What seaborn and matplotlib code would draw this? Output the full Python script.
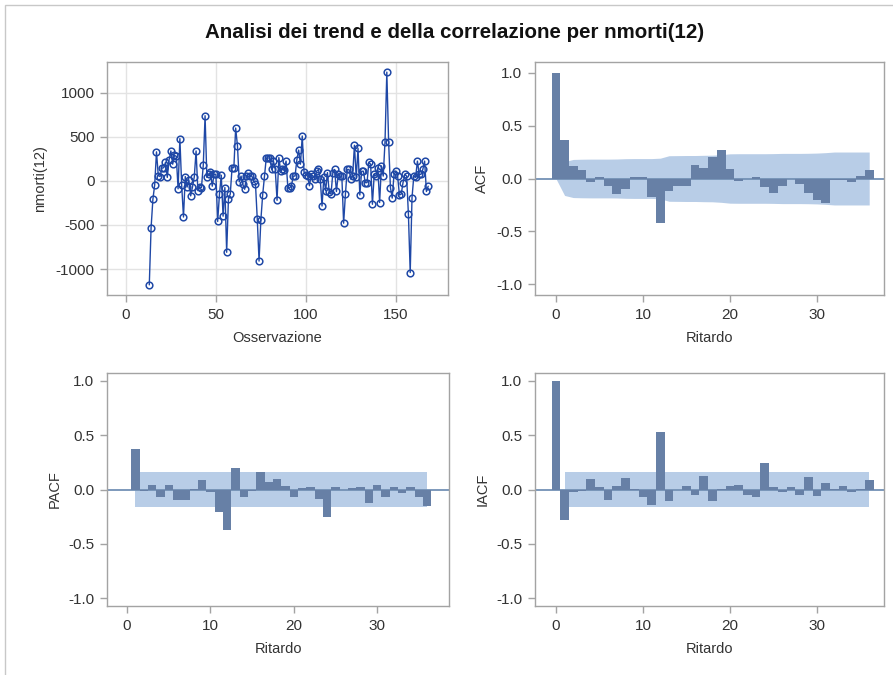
import numpy as np
import pandas as pd
import matplotlib
matplotlib.use("Agg")
import matplotlib.pyplot as plt
from matplotlib.patches import Rectangle
import seaborn as sns

# ---------------- data ----------------
title = "Analisi dei trend e della correlazione per nmorti(12)"

obs = list(range(13, 169))
nmorti12 = [
    -1180, -530, -210, -45, 330, 60, 50, 145, 150, 210,     # 13-22
    40, 240, 340, 190, 290, 280, -90, 480, -50, -410,       # 23-32
    50, -70, 10, -170, -70, 45, 340, -110, -70, -75,        # 33-42
    180, 740, 40, 75, 100, -60, 75, 75, -460, -150,         # 43-52
    65, -400, -75, -810, -200, -150, 150, 150, 600, 400,    # 53-62
    -10, 55, -40, -95, 55, 85, 55, 55, 0, -30,              # 63-72
    -430, -910, -445, -160, 55, 260, 260, 260, 130, 225,    # 73-82
    130, -220, 265, 115, 130, 120, 225, -75, -80, -55,      # 83-92
    55, 55, 240, 350, 190, 510, 100, 70, 55, -55,           # 93-102
    75, 55, 20, 110, 130, 20, -285, 40, -110, 95,           # 103-112
    -130, -150, 95, 130, -120, 75, 55, 55, -480, -150,      # 113-122
    130, 130, 20, 55, 405, 40, 370, -160, 110, 110,         # 123-132
    -20, -20, 210, 190, -265, 75, 55, 150, -245, 170,       # 133-142
    55, 445, 1235, 445, -75, -195, 75, 110, 55, -160,       # 143-152
    -150, -20, 75, 55, -380, -1040, -190, 55, 40, 225,      # 153-162
    75, 75, 130, 225, -120, -60,                            # 163-168
]

lags = list(range(0, 37))
acf = [1.0, 0.366, 0.115, 0.078, -0.03, 0.01, -0.07, -0.15, -0.10, 0.01,
       0.01, -0.17, -0.42, -0.12, -0.07, -0.07, 0.125, 0.095, 0.20, 0.27,
       0.085, -0.02, -0.005, 0.01, -0.08, -0.135, -0.07, 0.0, -0.05, -0.135,
       -0.20, -0.23, -0.01, -0.01, -0.03, 0.02, 0.08]
acf_band = [0.0, 0.160, 0.180, 0.182, 0.183, 0.183, 0.183, 0.184, 0.187, 0.188,
            0.188, 0.188, 0.192, 0.215, 0.216, 0.217, 0.217, 0.219, 0.220, 0.225,
            0.233, 0.234, 0.234, 0.234, 0.234, 0.235, 0.237, 0.237, 0.237, 0.238,
            0.240, 0.244, 0.250, 0.250, 0.250, 0.250, 0.250]

pacf_lags = list(range(1, 37))
pacf = [0.37, -0.015, 0.045, -0.07, 0.045, -0.10, -0.10, 0.005, 0.085, -0.02,
        -0.21, -0.37, 0.20, -0.07, -0.015, 0.16, 0.07, 0.10, 0.03, -0.07,
        0.01, 0.02, -0.085, -0.25, 0.02, -0.005, 0.01, 0.02, -0.12, 0.045,
        -0.07, 0.02, -0.03, 0.02, -0.07, -0.15]
pacf_band = [0.157, 0.157]
band_lags = [1, 36]

iacf = [1.0, -0.28, -0.02, -0.015, 0.10, 0.025, -0.10, 0.035, 0.11, 0.005,
        -0.07, -0.14, 0.525, -0.11, -0.005, 0.035, -0.05, 0.125, -0.11, 0.005,
        0.035, 0.045, -0.05, -0.07, 0.24, 0.025, -0.02, 0.02, -0.05, 0.115,
        -0.06, 0.06, 0.005, 0.035, -0.02, 0.005, 0.09]
iacf_band = [0.157, 0.157]

# ---------------- style ----------------
sns.set_theme(style="white")
plt.rcParams["font.family"] = ["Liberation Sans", "DejaVu Sans"]
plt.rcParams["axes.unicode_minus"] = False

LINE_C = "#1F48A6"
BAR_C = "#6780A6"
BAND_C = "#B8CDE7"
ZERO_C = "#7391B5"
SPINE_C = "#A3A3A3"
TEXT_C = "#333333"

W, H = 893, 675
fig = plt.figure(figsize=(W / 100, H / 100), dpi=100)


def ax_at(l, t, r, b):
    return fig.add_axes([l / W, 1 - b / H, (r - l) / W, (b - t) / H])


def style(ax):
    for s in ax.spines.values():
        s.set_color(SPINE_C)
        s.set_linewidth(1)
    ax.tick_params(bottom=True, left=True, direction="out", length=5, width=1,
                   color=SPINE_C, labelsize=11, labelcolor=TEXT_C, pad=4)


# ---- time series ----
ax1 = ax_at(107, 62, 448, 295)
df = pd.DataFrame({"Osservazione": obs, "nmorti(12)": nmorti12})
sns.lineplot(data=df, x="Osservazione", y="nmorti(12)", ax=ax1, sort=False,
             color=LINE_C, lw=1, marker="o", markersize=4.8,
             markerfacecolor="none", markeredgecolor=LINE_C, markeredgewidth=1.1)
ax1.set_xlim(-10.5, 179)
ax1.set_ylim(-1295, 1350)
ax1.set_xticks([0, 50, 100, 150])
ax1.set_yticks([-1000, -500, 0, 500, 1000])
ax1.grid(True, color="#E3E3E3", lw=1)
ax1.set_axisbelow(True)
ax1.set_xlabel("Osservazione", fontsize=10.5, color=TEXT_C, labelpad=7)
ax1.set_ylabel("nmorti(12)", fontsize=10.5, color=TEXT_C, labelpad=6)
style(ax1)


def corr_panel(ax, x, y, bx, band, ylabel, xlim, ylim):
    ax.fill_between(bx, [-v for v in band], band, color=BAND_C, lw=0, zorder=1)
    ax.axhline(0, color=ZERO_C, lw=1.3, zorder=2)
    sns.barplot(x=x, y=y, ax=ax, native_scale=True, width=1, color=BAR_C,
                saturation=1, linewidth=0, errorbar=None, zorder=3)
    ax.set_xlim(*xlim)
    ax.set_ylim(*ylim)
    ax.set_xticks([0, 10, 20, 30])
    ax.set_xticklabels(["0", "10", "20", "30"])
    ax.set_yticks([-1.0, -0.5, 0.0, 0.5, 1.0])
    ax.set_yticklabels(["-1.0", "-0.5", "0.0", "0.5", "1.0"])
    ax.set_xlabel("Ritardo", fontsize=10.5, color=TEXT_C, labelpad=7)
    ax.set_ylabel(ylabel, fontsize=10.5, color=TEXT_C, labelpad=5)
    style(ax)


ax2 = ax_at(535, 62, 884, 295)
corr_panel(ax2, lags, acf, lags, acf_band, "ACF", (-2.4, 37.7), (-1.1, 1.1))

ax3 = ax_at(107, 373, 449, 606)
corr_panel(ax3, pacf_lags, pacf, band_lags, pacf_band, "PACF", (-2.4, 38.6), (-1.07, 1.07))

ax4 = ax_at(535, 373, 884, 606)
corr_panel(ax4, lags, iacf, band_lags, iacf_band, "IACF", (-2.4, 37.7), (-1.07, 1.07))

fig.text(455 / W, 1 - 33 / H, title, ha="center", va="center",
         fontsize=14.8, fontweight="bold", color="#111111")

fig.add_artist(Rectangle((4.5 / W, -0.05), 1.2, 1.05 - 5 / H,
                         transform=fig.transFigure, fill=False,
                         edgecolor="#C8C8C8", lw=1))

fig.savefig("out.png", dpi=100)
